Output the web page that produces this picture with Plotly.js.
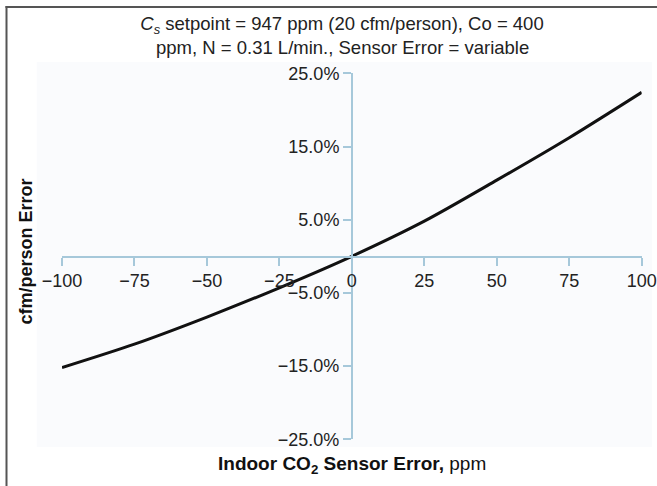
<!DOCTYPE html>
<html>
<head>
<meta charset="utf-8">
<script src="https://cdn.plot.ly/plotly-3.0.1.min.js"></script>
<style>html,body{margin:0;padding:0;background:#fff;}#chart{width:657px;height:486px;}</style>
</head>
<body>
<div id="chart"></div>
<script>
// Data
var sensorError = [-100, -75, -50, -25, 0, 25, 50, 75, 100];          // ppm
var cfmError = [-15.2, -12.0, -8.3, -4.3, 0, 4.8, 10.4, 16.2, 22.4];   // %
var xTickVals = [-100, -75, -50, -25, 0, 25, 50, 75, 100];
var yTickVals = [-25, -15, -5, 5, 15, 25];
var yTickText = ['\u221225.0%', '\u221215.0%', '\u22125.0%', '5.0%', '15.0%', '25.0%'];
var titleLine1 = '<i>C<sub>s</sub></i> setpoint = 947 ppm (20 cfm/person), Co = 400';
var titleLine2 = 'ppm, N = 0.31 L/min., Sensor Error = variable';

var W = 657, H = 486;
function px(x){ return x / W; }
function py(y){ return (H - y) / H; }

var axisColor = '#a6c8da';
var font = 'Liberation Sans, Arial, Helvetica, sans-serif';

var trace = {
  x: sensorError,
  y: cfmError,
  type: 'scatter',
  mode: 'lines',
  line: {color: '#111111', width: 3, shape: 'spline', smoothing: 0.8},
  hoverinfo: 'skip'
};

var layout = {
  width: W, height: H,
  margin: {l: 0, r: 0, t: 0, b: 0, pad: 0},
  paper_bgcolor: '#ffffff',
  plot_bgcolor: 'rgba(0,0,0,0)',
  showlegend: false,
  font: {family: font, size: 18, color: '#222222'},
  title: {
    text: titleLine1,
    font: {family: font, size: 18.5, color: '#222222'},
    x: px(342), xanchor: 'center', xref: 'paper',
    y: py(24), yanchor: 'middle', yref: 'container'
  },
  xaxis: {
    domain: [px(62), px(641.7)],
    range: [-100, 100],
    anchor: 'free',
    position: py(256.5),
    showline: true, linecolor: axisColor, linewidth: 2,
    ticks: 'outside', ticklen: 8, tickwidth: 2, tickcolor: axisColor,
    tickmode: 'array', tickvals: xTickVals,
    showgrid: false, zeroline: false,
    tickfont: {family: font, size: 18, color: '#222222'}
  },
  yaxis: {
    domain: [py(439.3), py(73.3)],
    range: [-25, 25],
    anchor: 'free',
    position: px(352),
    showline: true, linecolor: axisColor, linewidth: 2,
    ticks: 'outside', ticklen: 8, tickwidth: 2, tickcolor: axisColor,
    tickmode: 'array', tickvals: yTickVals, ticktext: yTickText,
    showgrid: false, zeroline: false,
    tickfont: {family: font, size: 18, color: '#222222'}
  },
  shapes: [
    {type: 'rect', xref: 'paper', yref: 'paper', layer: 'below',
     x0: px(36.7), x1: px(652), y0: py(447), y1: py(62),
     fillcolor: '#fafbfd', line: {width: 0}},
    {type: 'line', xref: 'paper', yref: 'paper',
     x0: px(5.5), x1: 1.01, y0: py(7), y1: py(7),
     line: {color: '#555555', width: 2}},
    {type: 'line', xref: 'paper', yref: 'paper',
     x0: px(6.5), x1: px(6.5), y0: py(6), y1: -0.01,
     line: {color: '#555555', width: 2}}
  ],
  annotations: [
    {text: titleLine2, xref: 'paper', yref: 'paper',
     x: px(342), y: py(47.5), xanchor: 'center', yanchor: 'middle',
     showarrow: false,
     font: {family: font, size: 18.5, color: '#222222'}},
    {text: '<b>cfm/person Error</b>', xref: 'paper', yref: 'paper',
     x: px(25), y: py(251.5), xanchor: 'center', yanchor: 'middle',
     textangle: -90, showarrow: false,
     font: {family: font, size: 18, color: '#111111'}},
    {text: '<b>Indoor CO<sub>2</sub> Sensor Error,</b> ppm', xref: 'paper', yref: 'paper',
     x: px(352), y: py(465), xanchor: 'center', yanchor: 'middle',
     showarrow: false,
     font: {family: font, size: 19, color: '#111111'}}
  ]
};

Plotly.newPlot('chart', [trace], layout, {displayModeBar: false, staticPlot: true});
</script>
</body>
</html>
